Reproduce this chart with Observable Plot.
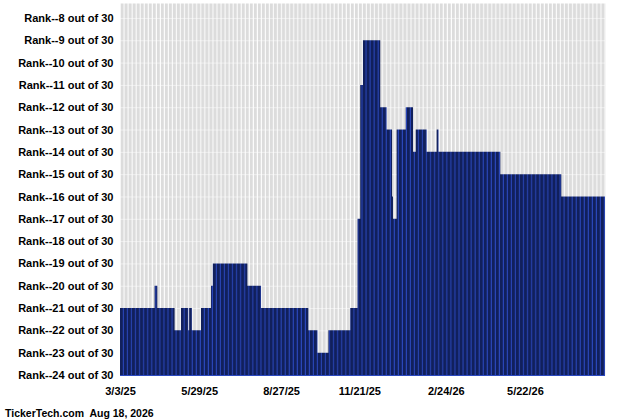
<!DOCTYPE html>
<html><head><meta charset="utf-8">
<script src="https://cdn.jsdelivr.net/npm/d3@7"></script>
<script src="https://cdn.jsdelivr.net/npm/@observablehq/plot@0.6"></script>
<style>
body{margin:0;background:#fff;font-family:"Liberation Sans",Arial,sans-serif;}
#wrap{position:relative;width:640px;height:420px;}
#foot{position:absolute;left:5px;top:406px;font-size:10.5px;font-weight:bold;white-space:pre;line-height:14px;color:#000}
</style></head><body><div id="wrap"><div id="chart"></div><div id="foot"></div></div>
<script>
// Rank changes (date the new rank starts) and the rank held from that date
const changeDates = [
  "2025-03-03","2025-04-10","2025-04-13","2025-05-02","2025-05-09","2025-05-17","2025-05-18",
  "2025-05-21","2025-05-31","2025-06-11","2025-06-13","2025-07-21","2025-08-05","2025-09-26",
  "2025-10-06","2025-10-18","2025-11-11","2025-11-19","2025-11-22","2025-11-25","2025-12-14",
  "2025-12-21","2025-12-27","2025-12-28","2026-01-01","2026-01-11","2026-01-19","2026-01-22",
  "2026-02-03","2026-02-14","2026-02-16","2026-04-25","2026-07-01"
];
const ranks = [
  21,20,21,22,21,22,21,
  22,21,20,19,20,21,22,
  23,22,21,17,11,9,12,
  13,16,17,13,12,14,13,
  14,13,14,15,16
];
const asOfDate = "2026-08-18";
const totalRanked = 30;
const rankTicks = [8,9,10,11,12,13,14,15,16,17,18,19,20,21,22,23,24];
const xTickDates = ["2025-03-03","2025-05-29","2025-08-27","2025-11-21","2026-02-24","2026-05-22"];
const xTickLabels = ["3/3/25","5/29/25","8/27/25","11/21/25","2/24/26","5/22/26"];
const footerText = "TickerTech.com  Aug 18, 2026";

const parse = d3.utcParse("%Y-%m-%d");
const table = changeDates.map((d, i) => ({date: parse(d), rank: ranks[i]}));
table.push({date: parse(asOfDate), rank: ranks[ranks.length - 1]});
const tickMap = new Map(xTickDates.map((d, i) => [+parse(d), xTickLabels[i]]));
const bottomRank = 24;

const W = 640, H = 400, ML = 120, MR = 35, MT = 3, MB = 25;
const svg = Plot.plot({
  width: W, height: H,
  marginLeft: ML, marginRight: MR, marginTop: MT, marginBottom: MB,
  style: {fontFamily: "'Liberation Sans', Arial, sans-serif", fontSize: "11px", fontWeight: "bold", color: "#000", background: "#fff"},
  x: {type: "utc", domain: [parse(changeDates[0]), parse(asOfDate)], label: null},
  y: {domain: [bottomRank, 7.33], label: null},
  marks: [
    Plot.frame({fill: "url(#bgPat)", stroke: "none"}),
    Plot.ruleY(rankTicks, {stroke: "#ffffff", strokeOpacity: 0.5}),
    Plot.areaY(table, {x: "date", y1: bottomRank, y2: "rank", curve: "step-after", fill: "url(#barPat)"}),
    Plot.ruleY([bottomRank], {stroke: "#2b49c0", strokeWidth: 1.2}),
    Plot.axisY(rankTicks, {tickSize: 0, tickPadding: 7, label: null, tickFormat: d => `Rank--${d} out of ${totalRanked}`}),
    Plot.axisX(xTickDates.map(parse), {tickSize: 0, tickPadding: 12, label: null, tickFormat: d => tickMap.get(+d)})
  ]
});

const pitch = (W - ML - MR) / 120;
const defs = d3.select(svg).insert("defs", ":first-child");
const bg = defs.append("pattern").attr("id", "bgPat").attr("patternUnits", "userSpaceOnUse")
  .attr("x", ML).attr("y", 0).attr("width", pitch).attr("height", 10);
bg.append("rect").attr("width", pitch).attr("height", 10).attr("fill", "#dcdcdc");
bg.append("rect").attr("x", 3).attr("width", 1).attr("height", 10).attr("fill", "#ffffff");
const bp = defs.append("pattern").attr("id", "barPat").attr("patternUnits", "userSpaceOnUse")
  .attr("x", ML).attr("y", 0).attr("width", pitch).attr("height", 10);
bp.append("rect").attr("width", pitch).attr("height", 10).attr("fill", "#11205c");
bp.append("rect").attr("x", 3).attr("width", 1).attr("height", 10).attr("fill", "#2b49c0");

document.getElementById("chart").appendChild(svg);
document.getElementById("foot").textContent = footerText;
</script></body></html>
